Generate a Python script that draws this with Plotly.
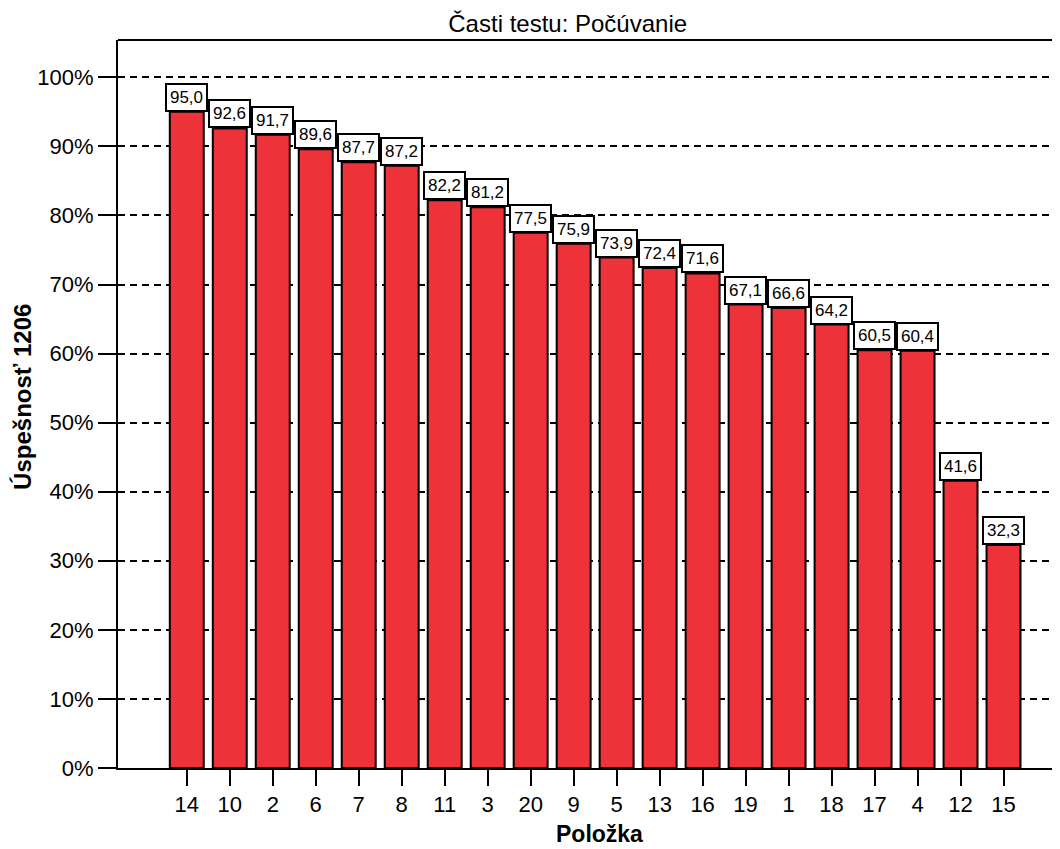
import plotly.graph_objects as go

categories = ["14", "10", "2", "6", "7", "8", "11", "3", "20", "9",
              "5", "13", "16", "19", "1", "18", "17", "4", "12", "15"]
values = [95.0, 92.6, 91.7, 89.6, 87.7, 87.2, 82.2, 81.2, 77.5, 75.9,
          73.9, 72.4, 71.6, 67.1, 66.6, 64.2, 60.5, 60.4, 41.6, 32.3]
labels = [f"{v:.1f}".replace(".", ",") for v in values]

title_text = "Časti testu: Počúvanie"
x_title = "Položka"
y_title = "Úspešnosť 1206"

FONT = "Liberation Sans, Arial, sans-serif"

fig = go.Figure()
fig.add_trace(go.Bar(
    x=list(range(len(categories))), y=values,
    marker=dict(color="#EE323A", line=dict(color="black", width=2)),
    width=0.79,
    hovertext=categories, hoverinfo="text+y",
))

for i, (v, t) in enumerate(zip(values, labels)):
    fig.add_annotation(
        x=i, y=v, text=t, showarrow=False, yanchor="bottom",
        xanchor="center", width=33,
        font=dict(family=FONT, size=17, color="black"),
        bgcolor="white", bordercolor="black", borderwidth=2, borderpad=3,
    )

# axis titles as annotations for exact placement
fig.add_annotation(
    x=-0.0998, y=0.51, xref="paper", yref="paper", text="<b>" + y_title + "</b>",
    textangle=-90, showarrow=False, xanchor="center", yanchor="middle",
    font=dict(family=FONT, size=24, color="black"),
)
fig.add_annotation(
    x=0.507, y=-0.091, xref="paper", yref="paper", text="<b>" + x_title + "</b>",
    showarrow=False, xanchor="center", yanchor="middle",
    font=dict(family=FONT, size=23, color="black"),
)

fig.update_layout(
    width=1060, height=849,
    margin=dict(l=110, r=0, t=32, b=89),
    plot_bgcolor="white", paper_bgcolor="white",
    showlegend=False,
    font=dict(family=FONT, color="black"),
    title=dict(text=title_text, x=0.528, xanchor="center", y=0.982, yanchor="middle",
               font=dict(family=FONT, size=24, color="black")),
    xaxis=dict(
        range=[-1.6, 20.5], automargin=False,
        tickmode="array", tickvals=list(range(len(categories))), ticktext=categories,
        showline=True, linecolor="black", linewidth=2,
        ticks="outside", ticklen=16, tickwidth=2, tickcolor="black",
        tickfont=dict(family=FONT, size=22, color="black"),
        showgrid=False, zeroline=False,
    ),
    yaxis=dict(
        range=[0, 105.4], dtick=10, ticksuffix="%", automargin=False,
        showline=True, linecolor="black", linewidth=2,
        ticks="outside", ticklen=18, tickwidth=2, tickcolor="black",
        tickfont=dict(family=FONT, size=22, color="black"),
        showgrid=True, gridcolor="black", gridwidth=2, griddash="7px,5px",
        zeroline=False,
    ),
)

fig.add_shape(type="line", xref="paper", yref="paper", x0=0, x1=1, y0=1, y1=1,
              line=dict(color="black", width=2))

fig.write_html("out.html")
